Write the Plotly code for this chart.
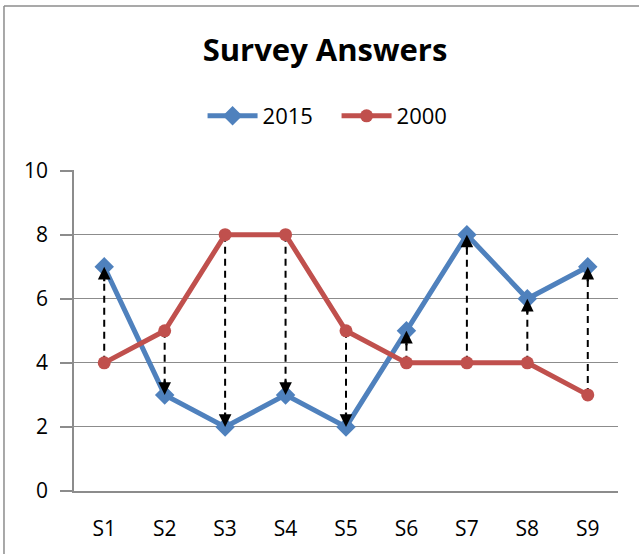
import plotly.graph_objects as go

categories = ["S1", "S2", "S3", "S4", "S5", "S6", "S7", "S8", "S9"]
values_2015 = [7, 3, 2, 3, 2, 5, 8, 6, 7]
values_2000 = [4, 5, 8, 8, 5, 4, 4, 4, 3]
y_ticks = [0, 2, 4, 6, 8, 10]

BLUE = "#4F81BD"
RED = "#C0504D"
FONT = "Open Sans"
GRID = "#8C8C8C"

fig = go.Figure()

# dashed connector lines (2000 -> 2015)
for c, a, b in zip(categories, values_2000, values_2015):
    fig.add_trace(go.Scatter(
        x=[c, c], y=[a, b], mode="lines",
        line=dict(color="black", width=2, dash="7px,5px"),
        showlegend=False, hoverinfo="skip"))

fig.add_trace(go.Scatter(
    x=categories, y=values_2015, name="2015", mode="lines+markers",
    line=dict(color=BLUE, width=5),
    marker=dict(symbol="diamond", size=15, color=BLUE)))
fig.add_trace(go.Scatter(
    x=categories, y=values_2000, name="2000", mode="lines+markers",
    line=dict(color=RED, width=5),
    marker=dict(symbol="circle", size=13, color=RED)))

# arrowheads at the 2015 end
for c, a, b in zip(categories, values_2000, values_2015):
    direction = 1 if b > a else -1
    fig.add_annotation(
        x=c, y=b, xref="x", yref="y",
        ax=0, ay=direction * 16, axref="pixel", ayref="pixel",
        showarrow=True, arrowhead=2, arrowsize=1.15, arrowwidth=2.2,
        arrowcolor="black", standoff=0, text="")

# outer frame (partially visible, like the reference crop)
fig.add_shape(type="line", xref="paper", yref="paper",
              x0=-0.1287, x1=-0.1287, y0=-0.3, y1=1.5109,
              line=dict(color=GRID, width=1.5))
fig.add_shape(type="line", xref="paper", yref="paper",
              x0=-0.1287, x1=1.2, y0=1.5109, y1=1.5109,
              line=dict(color=GRID, width=1.5))

fig.update_layout(
    width=639, height=554,
    margin=dict(l=74, r=21, t=170, b=63),
    paper_bgcolor="white", plot_bgcolor="white",
    font=dict(family=FONT, size=21, color="black"),
    title=dict(text="<b>Survey Answers</b>", x=325 / 639, xref="container", xanchor="center",
               y=1 - 50 / 554, yref="container", yanchor="middle",
               font=dict(family=FONT, size=31, color="black")),
    legend=dict(orientation="h", x=(208 - 74) / 544 - 0.01, xanchor="left", y=1.168, yanchor="middle",
                font=dict(family=FONT, size=22), itemwidth=50,
                entrywidth=69, entrywidthmode="pixels",
                bgcolor="rgba(0,0,0,0)"),
    showlegend=True,
)
fig.update_xaxes(
    type="category", categoryorder="array", categoryarray=categories,
    range=[-0.5, 8.5], showgrid=False, showline=True, linecolor=GRID, linewidth=1.5,
    zeroline=False, ticks="", ticklabelstandoff=18, tickfont=dict(size=21))
fig.update_yaxes(
    range=[0, 10.02], tickvals=y_ticks, showgrid=True, gridcolor=GRID, gridwidth=1,
    showline=True, linecolor=GRID, linewidth=1.5, zeroline=False,
    ticks="outside", ticklen=12, tickcolor=GRID, tickwidth=1.5,
    ticklabelstandoff=8, tickfont=dict(size=21))

fig.write_html("out.html", config={"displayModeBar": False},
               post_script="document.body.style.margin='0';document.body.style.padding='0';")
